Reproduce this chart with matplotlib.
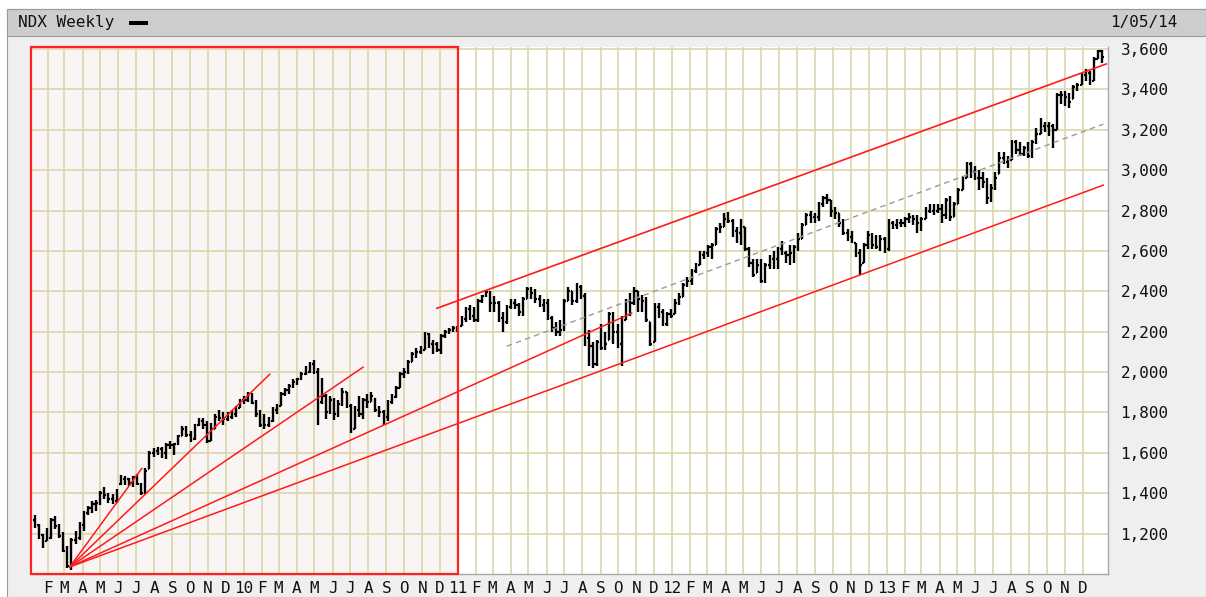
import numpy as np
import pandas as pd
import matplotlib
matplotlib.use("Agg")
import matplotlib.pyplot as plt
import matplotlib.dates as mdates
from matplotlib.patches import Rectangle

# ---------------- data (weekly NDX bars) ----------------
week_dates = pd.date_range("2009-01-09", "2014-01-03", freq="W-FRI")

open_2009 = [1265,1245,1195,1165,1180,1268,1240,1190,1115,1040,1170,1180,1245,1300,1325,1345,1350,1400,1390,1370,
             1360,1445,1470,1470,1450,1480,1445,1400,1520,1600,1610,1620,1600,1640,1640,1645,1685,1720,1690,1670,
             1740,1760,1740,1660,1720,1780,1775,1770,1780,1790,1820]
high_2009 = [1290,1250,1200,1230,1275,1285,1250,1210,1140,1180,1215,1260,1310,1335,1360,1365,1410,1430,1400,1395,
             1420,1490,1485,1475,1485,1495,1450,1525,1610,1625,1630,1630,1650,1660,1650,1690,1735,1735,1710,1745,
             1775,1775,1760,1750,1790,1810,1800,1800,1810,1830,1865]
low_2009 = [1228,1175,1130,1165,1175,1225,1180,1110,1030,1018,1150,1170,1215,1290,1300,1310,1340,1370,1350,1345,
            1350,1440,1440,1435,1430,1440,1390,1395,1520,1580,1590,1575,1570,1620,1590,1640,1685,1680,1655,1665,
            1735,1720,1650,1660,1720,1760,1740,1760,1770,1780,1820]
close_2009 = [1245,1195,1165,1180,1268,1240,1190,1115,1040,1170,1175,1245,1300,1325,1345,1350,1400,1390,1370,1360,
              1410,1470,1470,1450,1480,1445,1400,1510,1600,1610,1620,1600,1640,1640,1645,1685,1720,1690,1670,1740,
              1760,1740,1660,1720,1780,1775,1770,1780,1790,1820,1860]

open_2010 = [1860,1860,1890,1845,1790,1740,1740,1760,1810,1830,1890,1910,1930,1950,1965,1990,2000,2040,2000,1850,
             1880,1800,1860,1790,1840,1900,1830,1720,1810,1790,1860,1850,1865,1810,1800,1780,1850,1875,1920,1990,
             2000,2050,2090,2100,2110,2190,2140,2140,2110,2180,2200,2210,2220]
high_2010 = [1880,1900,1895,1860,1810,1790,1780,1825,1840,1900,1920,1940,1965,1970,2000,2030,2050,2060,2020,1970,
             1890,1880,1870,1860,1920,1900,1840,1830,1880,1870,1890,1900,1870,1830,1810,1860,1890,1930,2000,2020,
             2060,2100,2120,2130,2200,2195,2160,2150,2190,2210,2220,2230,2230]
low_2010 = [1840,1850,1840,1780,1730,1720,1730,1755,1790,1830,1880,1890,1920,1935,1960,1985,1995,1990,1740,1840,
            1770,1790,1765,1780,1830,1820,1700,1720,1780,1770,1820,1850,1800,1780,1740,1760,1840,1870,1920,1970,
            1990,2050,2070,2090,2110,2120,2090,2100,2090,2170,2190,2200,2200]
close_2010 = [1860,1890,1845,1790,1740,1740,1760,1810,1830,1890,1910,1930,1950,1965,1990,2000,2040,2000,1800,1880,
              1800,1860,1790,1840,1900,1830,1710,1810,1790,1860,1850,1880,1810,1800,1780,1850,1875,1920,1990,2000,
              2050,2090,2100,2110,2190,2140,2140,2110,2180,2200,2210,2220,2217]

open_2011 = [2230,2265,2310,2280,2260,2350,2375,2395,2340,2340,2270,2250,2320,2340,2330,2300,2360,2410,2390,2360,
             2330,2340,2270,2220,2200,2210,2350,2400,2350,2420,2375,2170,2130,2040,2150,2120,2160,2290,2200,2140,
             2260,2350,2340,2400,2360,2350,2250,2150,2320,2300,2240,2290]
high_2011 = [2280,2320,2330,2320,2360,2380,2400,2400,2375,2350,2300,2330,2360,2360,2340,2370,2420,2420,2410,2380,
             2360,2360,2280,2250,2260,2360,2420,2400,2440,2430,2390,2210,2150,2160,2240,2200,2300,2300,2240,2280,
             2360,2390,2420,2400,2380,2370,2250,2340,2340,2310,2300,2310]
low_2011 = [2230,2250,2260,2250,2250,2340,2370,2300,2300,2250,2200,2240,2310,2310,2280,2280,2360,2360,2340,2320,
            2300,2260,2200,2180,2180,2205,2350,2330,2340,2360,2130,2030,2020,2030,2110,2110,2160,2140,2120,2030,
            2260,2280,2330,2300,2300,2250,2130,2150,2270,2230,2230,2270]
close_2011 = [2265,2310,2280,2260,2350,2375,2395,2340,2340,2270,2250,2320,2340,2330,2300,2360,2410,2390,2360,2330,
              2340,2270,2220,2200,2210,2350,2400,2350,2420,2375,2170,2130,2040,2150,2120,2140,2290,2200,2140,2250,
              2350,2340,2400,2360,2350,2260,2140,2320,2300,2240,2290,2280]

open_2012 = [2290,2340,2370,2430,2450,2500,2530,2580,2590,2620,2630,2710,2720,2760,2750,2700,2690,2720,2610,2540,
             2490,2530,2450,2530,2560,2560,2610,2590,2580,2590,2620,2660,2730,2780,2770,2770,2830,2860,2850,2800,
             2790,2740,2690,2670,2640,2590,2540,2630,2680,2630,2620,2660]
high_2012 = [2360,2390,2440,2470,2510,2540,2600,2600,2630,2640,2720,2740,2790,2795,2760,2720,2760,2720,2620,2560,
             2560,2560,2540,2580,2600,2620,2650,2600,2630,2630,2690,2740,2790,2800,2790,2840,2870,2880,2850,2820,
             2790,2760,2710,2700,2640,2610,2640,2700,2690,2680,2680,2670]
low_2012 = [2290,2330,2370,2420,2430,2490,2530,2560,2570,2560,2630,2690,2720,2740,2670,2640,2630,2600,2520,2470,
            2490,2440,2440,2510,2510,2510,2580,2540,2530,2540,2600,2660,2730,2740,2740,2750,2820,2830,2770,2760,
            2720,2680,2650,2640,2570,2480,2540,2610,2610,2610,2600,2590]
close_2012 = [2340,2370,2430,2450,2500,2520,2580,2590,2620,2630,2710,2720,2760,2750,2700,2690,2720,2610,2540,2480,
              2530,2450,2530,2560,2560,2610,2590,2580,2590,2620,2660,2730,2780,2770,2770,2830,2860,2850,2800,2790,
              2740,2690,2670,2650,2590,2530,2630,2680,2630,2620,2660,2610]

open_2013 = [2610,2740,2730,2740,2740,2760,2770,2760,2740,2760,2800,2800,2800,2810,2780,2850,2770,2830,2900,2960,
             3030,2990,2960,2960,2940,2860,2910,2980,3060,3040,3050,3140,3100,3080,3110,3070,3140,3180,3220,3220,
             3220,3200,3370,3370,3360,3350,3410,3420,3470,3480,3440,3550,3590]
high_2013 = [2760,2750,2760,2760,2770,2790,2780,2780,2770,2820,2830,2830,2830,2830,2860,2870,2840,2910,2970,3040,
             3040,3020,3000,2990,2960,2930,2990,3090,3090,3070,3150,3150,3140,3120,3140,3150,3210,3260,3240,3240,
             3230,3380,3390,3390,3380,3420,3430,3480,3500,3490,3560,3595,3595]
low_2013 = [2600,2710,2710,2720,2720,2740,2730,2690,2700,2760,2790,2780,2790,2740,2760,2750,2770,2830,2900,2960,
            2960,2950,2900,2910,2830,2840,2900,2980,3030,3010,3050,3080,3070,3070,3060,3060,3130,3180,3190,3170,
            3110,3200,3330,3320,3310,3350,3390,3420,3440,3420,3440,3550,3530]
close_2013 = [2740,2730,2740,2740,2760,2770,2760,2740,2760,2800,2800,2800,2810,2780,2850,2770,2830,2900,2960,3030,
              2990,2960,2960,2940,2860,2910,2960,3060,3040,3050,3140,3100,3080,3110,3070,3140,3180,3220,3220,3220,
              3200,3370,3370,3360,3340,3410,3420,3470,3480,3440,3550,3590,3560]
# (the 2013 lists also carry the final bar of the week ending 2014-01-03)

opens = open_2009 + open_2010 + open_2011 + open_2012 + open_2013
highs = high_2009 + high_2010 + high_2011 + high_2012 + high_2013
lows = low_2009 + low_2010 + low_2011 + low_2012 + low_2013
closes = close_2009 + close_2010 + close_2011 + close_2012 + close_2013

# trend lines drawn on the chart
fan_origin_date, fan_origin_value = "2009-03-10", 1035
fan_end_dates = ["2009-07-11", "2010-02-14", "2010-07-23", "2011-10-24", "2014-01-05"]
fan_end_values = [1523, 1989, 2024, 2292, 2926]
upper_channel_dates = ["2010-11-26", "2014-01-10"]
upper_channel_values = [2316, 3526]
mid_line_dates = ["2011-03-25", "2014-01-05"]
mid_line_values = [2128, 3228]

highlight_start, highlight_end = "2009-01-03", "2011-01-01"

y_ticks = [1200, 1400, 1600, 1800, 2000, 2200, 2400, 2600, 2800, 3000, 3200, 3400, 3600]
month_starts = pd.date_range("2009-02-01", "2013-12-01", freq="MS")
month_labels = [("%02d" % (d.year % 100)) if d.month == 1 else "JFMAMJJASOND"[d.month - 1]
                for d in month_starts]

title_text = "NDX Weekly"
date_text = "1/05/14"

# ---------------- figure ----------------
W, H = 1206, 597
fig = plt.figure(figsize=(W / 100, H / 100), dpi=100)
fig.patch.set_facecolor("white")

mono = "DejaVu Sans Mono"
# outer panel and title band
fig.add_artist(Rectangle((7 / W, 0), (W - 7) / W, (H - 9) / H, transform=fig.transFigure,
                         facecolor="#efefef", edgecolor="#9a9a9a", lw=0.8, zorder=0))
fig.add_artist(Rectangle((7 / W, 1 - 36 / H), (W - 7) / W, 27 / H, transform=fig.transFigure,
                         facecolor="#cdcdcd", edgecolor="#9a9a9a", lw=0.8, zorder=0))
fig.text(18 / W, 1 - 22 / H, title_text, fontsize=11.5, family=mono, va="center", ha="left", color="#111111")
fig.add_artist(Rectangle((129 / W, 1 - 25 / H), 19 / W, 4 / H, transform=fig.transFigure,
                         facecolor="black", edgecolor="none"))
fig.text(1110 / W, 1 - 22 / H, date_text, fontsize=11.5, family=mono, va="center", ha="left", color="#111111")

ax = fig.add_axes([31 / W, 1 - 574 / H, (1108 - 31) / W, (574 - 47) / H])
ax.set_facecolor("white")

x0 = mdates.date2num(pd.Timestamp(highlight_start))
x1 = mdates.date2num(pd.Timestamp("2014-01-13"))
ax.set_xlim(x0, x1)
ax.set_ylim(1000, 3610)

# highlighted region
hx1 = mdates.date2num(pd.Timestamp(highlight_end))
ax.axvspan(x0, hx1, facecolor="#f8f5f4", edgecolor="none", zorder=0)

# grid
grid_col = "#dcd5ab"
for d in month_starts:
    ax.axvline(mdates.date2num(d), color=grid_col, lw=1.2, zorder=1)
for v in y_ticks:
    ax.axhline(v, color=grid_col, lw=1.2, zorder=1)

# red box
ax.add_patch(Rectangle((x0, 0), hx1 - x0, 1, transform=ax.get_xaxis_transform(),
                       facecolor="none", edgecolor="#ff2020", lw=1.6, zorder=5, clip_on=False))

# bars
xd = mdates.date2num(week_dates)
ax.vlines(xd, lows, highs, color="black", lw=1.7, zorder=3)
ax.hlines(closes, xd, xd + 2.8, color="black", lw=1.6, zorder=3)
ax.hlines(opens, xd - 2.8, xd, color="black", lw=1.6, zorder=3)

# trend lines
ox = mdates.date2num(pd.Timestamp(fan_origin_date))
for d, v in zip(fan_end_dates, fan_end_values):
    ax.plot([ox, mdates.date2num(pd.Timestamp(d))], [fan_origin_value, v], color="#ff1a1a", lw=1.1, zorder=4)
ax.plot(mdates.date2num(pd.to_datetime(upper_channel_dates)), upper_channel_values,
        color="#ff1a1a", lw=1.2, zorder=4)
ax.plot(mdates.date2num(pd.to_datetime(mid_line_dates)), mid_line_values,
        color="#9a9a9a", lw=1.0, ls=(0, (4, 3)), zorder=4)

# axes styling
for s in ["left", "top"]:
    ax.spines[s].set_visible(False)
for s in ["right", "bottom"]:
    ax.spines[s].set_color("#a8a8a8")
    ax.spines[s].set_linewidth(1.0)

ax.yaxis.tick_right()
ax.set_yticks(y_ticks)
ax.set_yticklabels([f"{v:,}" for v in y_ticks], family=mono, fontsize=11.5, color="#111111")
ax.tick_params(axis="y", length=0, pad=9)

ax.set_xticks(mdates.date2num(month_starts))
ax.set_xticklabels(month_labels, family=mono, fontsize=11.5, color="#111111")
ax.tick_params(axis="x", length=0, pad=5)

fig.savefig("out.png", dpi=100, facecolor=fig.get_facecolor())
